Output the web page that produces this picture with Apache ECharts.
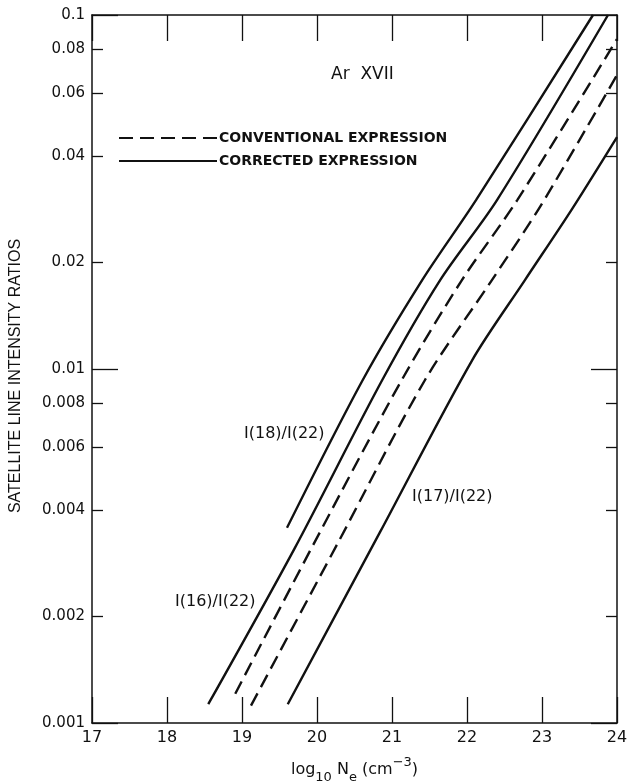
<!DOCTYPE html>
<html>
<head>
<meta charset="utf-8">
<script src="https://cdn.jsdelivr.net/npm/echarts@6/dist/echarts.min.js"></script>
<style>
  html, body { margin: 0; padding: 0; background: #fff; }
  #chart { width: 629px; height: 784px; }
</style>
</head>
<body>
<div id="chart"></div>
<script>
const ratio18Corrected = [[19.60, 0.00356], [20.61, 0.00931], [21.40, 0.0178], [22.12, 0.0300], [23.68, 0.1]]
const ratio16Corrected = [[18.55, 0.00113], [19.70, 0.00311], [20.87, 0.00931], [21.64, 0.0178], [22.40, 0.0300], [23.88, 0.1]]
const ratio16Conventional = [[18.91, 0.00121], [20.02, 0.00340], [21.13, 0.00931], [21.93, 0.0178], [22.67, 0.0300], [24.0, 0.0855]]
const ratio17Conventional = [[19.12, 0.00112], [20.28, 0.00323], [21.44, 0.00931], [22.33, 0.0178], [22.99, 0.0291], [24.0, 0.0677]]
const ratio17Corrected = [[19.61, 0.00113], [20.84, 0.00346], [22.07, 0.0106], [22.77, 0.0178], [23.40, 0.0283], [24.0, 0.0452]]

const yTickValues = [0.001, 0.002, 0.004, 0.006, 0.008, 0.01, 0.02, 0.04, 0.06, 0.08, 0.1]
const yTickLabels = ['0.001', '0.002', '0.004', '0.006', '0.008', '0.01', '0.02', '0.04', '0.06', '0.08', '0.1']
const yMajorTicks = [0.001, 0.01, 0.1]
const yMinorTicks = [0.002, 0.004, 0.006, 0.008, 0.02, 0.04, 0.06, 0.08]

const INK = '#111'
const CONV = 'CONVENTIONAL EXPRESSION'
const CORR = 'CORRECTED EXPRESSION'

function yLabel (v) {
  let best = 0
  yTickValues.forEach((t, i) => {
    if (Math.abs(Math.log10(t) - Math.log10(v)) < Math.abs(Math.log10(yTickValues[best]) - Math.log10(v))) best = i
  })
  return yTickLabels[best]
}

function yAxisFor (position, ticks, len, withLabels) {
  const isMain = withLabels && position === 'left'
  return {
    type: 'log', logBase: 10, min: 0.001, max: 0.1, position,
    axisLine: { show: withLabels, lineStyle: { color: INK, width: 1.5 } },
    axisTick: { show: true, inside: true, length: len, customValues: ticks, lineStyle: { color: INK, width: 1.3 } },
    axisLabel: isMain
      ? { show: true, customValues: yTickValues, formatter: yLabel, margin: 7, color: INK, fontFamily: 'DejaVu Sans', fontSize: 15 }
      : { show: false },
    splitLine: { show: false },
    ...(isMain ? {
      name: 'SATELLITE LINE INTENSITY RATIOS',
      nameLocation: 'middle',
      nameGap: 68,
      nameTextStyle: { color: INK, fontFamily: 'Liberation Sans', fontSize: 16, padding: [0, 14, 0, 0] }
    } : {})
  }
}

function xAxisFor (position, withLabels) {
  return {
    type: 'value', min: 17, max: 24, interval: 1, position,
    axisLine: { show: true, onZero: false, lineStyle: { color: INK, width: 1.5 } },
    axisTick: { show: true, inside: true, length: 26, lineStyle: { color: INK, width: 1.3 } },
    axisLabel: withLabels ? { show: true, margin: 7, color: INK, fontFamily: 'DejaVu Sans', fontSize: 16 } : { show: false },
    splitLine: { show: false },
    ...(withLabels ? {
      name: 'log{sub|10} N{sub|e} (cm{sup|−3})',
      nameLocation: 'middle',
      nameGap: 33,
      nameTextStyle: {
        color: INK, fontFamily: 'DejaVu Sans', fontSize: 16, lineHeight: 28,
        rich: {
          sub: { fontFamily: 'DejaVu Sans', fontSize: 13, lineHeight: 13, verticalAlign: 'bottom', color: INK },
          sup: { fontFamily: 'DejaVu Sans', fontSize: 13, lineHeight: 13, verticalAlign: 'top', color: INK }
        }
      }
    } : {})
  }
}

function curve (name, data, dashed) {
  return {
    name, type: 'line', data, smooth: 0.3, symbol: 'none',
    xAxisIndex: 0, yAxisIndex: 0,
    lineStyle: { color: INK, width: 2.4, type: dashed ? [14, 7] : 'solid' },
    itemStyle: { color: INK },
    silent: true
  }
}

const chart = echarts.init(document.getElementById('chart'), null, { renderer: 'canvas' })

chart.setOption({
  animation: false,
  backgroundColor: '#fff',
  grid: { left: 92, right: 12, top: 15, bottom: 61, outerBoundsMode: 'none', containLabel: false },
  title: {
    text: 'Ar  XVII', left: 326, top: 61,
    textStyle: { color: INK, fontFamily: 'DejaVu Sans', fontSize: 17, fontWeight: 'normal' }
  },
  legend: {
    orient: 'vertical', left: 113, top: 126,
    itemWidth: 98, itemHeight: 14, itemGap: 9,
    data: [CONV, CORR],
    itemStyle: { opacity: 0 },
    textStyle: { color: INK, fontFamily: 'DejaVu Sans', fontSize: 14, fontWeight: 'bold', padding: [0, 0, 0, -3] },
    selectedMode: false
  },
  xAxis: [xAxisFor('bottom', true), xAxisFor('top', false)],
  yAxis: [
    yAxisFor('left', yMinorTicks, 11, true),
    yAxisFor('left', yMajorTicks, 26, false),
    yAxisFor('right', yMinorTicks, 11, true),
    yAxisFor('right', yMajorTicks, 26, false)
  ],
  series: [
    curve(CONV, ratio16Conventional, true),
    curve(CONV, ratio17Conventional, true),
    curve(CORR, ratio18Corrected, false),
    curve(CORR, ratio16Corrected, false),
    curve(CORR, ratio17Corrected, false)
  ],
  graphic: [
    { type: 'text', left: 244, top: 426, style: { text: 'I(18)/I(22)', fill: INK, font: '16px "DejaVu Sans"' } },
    { type: 'text', left: 175, top: 594, style: { text: 'I(16)/I(22)', fill: INK, font: '16px "DejaVu Sans"' } },
    { type: 'text', left: 412, top: 489, style: { text: 'I(17)/I(22)', fill: INK, font: '16px "DejaVu Sans"' } }
  ]
})
</script>
</body>
</html>
